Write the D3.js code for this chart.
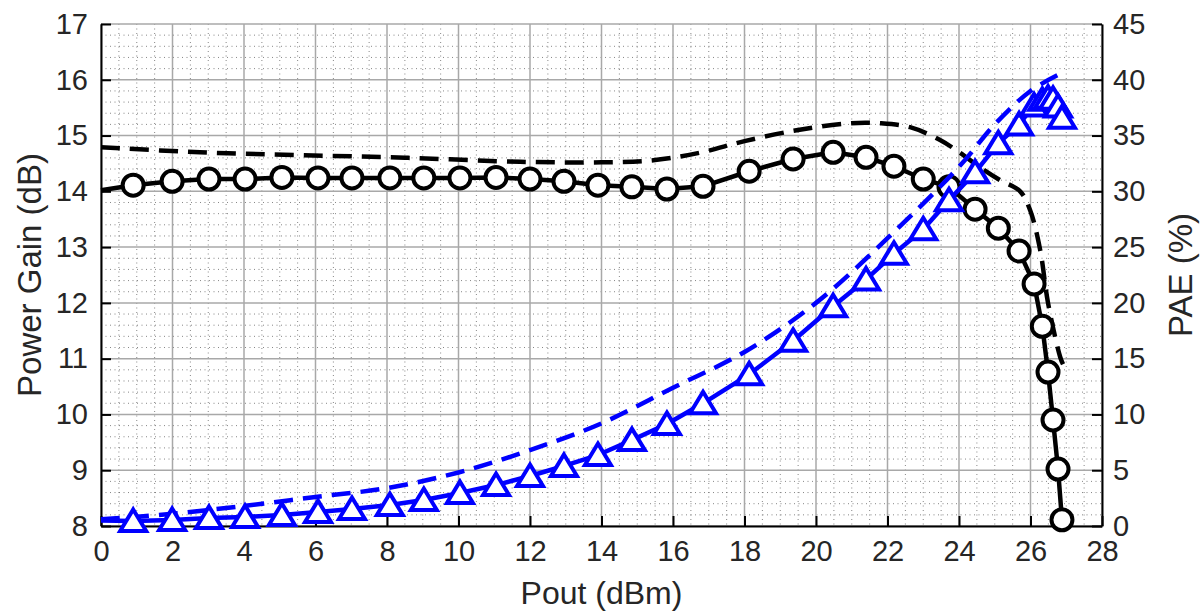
<!DOCTYPE html>
<html lang="en">

<head>
    <meta charset="utf-8">
    <title>Power gain and PAE vs Pout</title>
    <script src="https://d3js.org/d3.v7.min.js"></script>
    <style type="text/css">
        body { margin: 0; background: #fff; }
        text { font-family: "Liberation Sans", Arial, sans-serif; fill: #262626; }
    </style>
</head>

<body>
    <script type="text/javascript">

        // measured points (first point at 0 dBm has no marker)
        var pout = [0, 0.9, 1.99, 3.02, 4.03, 5.06, 6.07, 7.02, 8.08, 9.03, 10.04, 11.05, 12.0,
            12.95, 13.9, 14.85, 15.83, 16.84, 18.13, 19.36, 20.48, 21.4, 22.18, 23.0, 23.72,
            24.45, 25.1, 25.68, 26.1, 26.33, 26.49, 26.63, 26.77, 26.88];
        var gainMeas = [14.02, 14.11, 14.18, 14.22, 14.22, 14.25, 14.24, 14.24, 14.24, 14.24,
            14.24, 14.25, 14.22, 14.18, 14.11, 14.08, 14.04, 14.09, 14.36, 14.58, 14.70, 14.61,
            14.45, 14.22, 14.08, 13.68, 13.34, 12.93, 12.34, 11.58, 10.76, 9.90, 9.02, 8.11];
        var paeMeas = [0.5, 0.45, 0.54, 0.72, 0.81, 0.99, 1.25, 1.52, 1.88, 2.33, 2.96, 3.67,
            4.48, 5.38, 6.36, 7.7, 9.14, 11.0, 13.6, 16.6, 19.7, 22.1, 24.4, 26.6, 29.2, 31.7,
            34.3, 36.0, 37.7, 38.2, 38.4, 38.3, 37.6, 36.6];

        // simulated curves (dashed)
        var gainSimX = [0, 2.77, 5.57, 8.59, 11.72, 14.0, 15.5, 16.8, 18.0, 19.5, 20.95, 21.79,
            22.63, 23.47, 24.03, 24.59, 25.15, 25.71, 25.99, 26.27, 26.49, 26.83, 26.91];
        var gainSim = [14.79, 14.70, 14.65, 14.6, 14.53, 14.52, 14.56, 14.7, 14.9, 15.1, 15.22, 15.22,
            15.15, 14.92, 14.69, 14.43, 14.2, 14.0, 13.66, 12.95, 12.0, 11.03, 10.9];
        var paeSimX = [0, 2, 4, 6, 8, 10, 12, 14, 16, 18, 20, 22, 24, 25, 26, 26.75];
        var paeSim = [0.6, 1.1, 1.8, 2.6, 3.4, 4.8, 6.8, 9.2, 12.4, 15.6, 20.0, 25.8, 32.2,
            36.0, 39.0, 40.4];

        var xTicks = d3.range(0, 29, 2),
            gainTicks = d3.range(8, 18, 1),
            paeTicks = d3.range(0, 46, 5);

        var w = 1200, h = 612,
            mLeft = 101, mRight = 1102, mTop = 24, mBottom = 526;

        var svg = d3.select("body").append("svg")
            .attr("width", w)
            .attr("height", h);

        var xScale = d3.scaleLinear().domain([0, 28]).range([mLeft, mRight]);
        var yGain = d3.scaleLinear().domain([8, 17]).range([mBottom, mTop]);
        var yPae = d3.scaleLinear().domain([0, 45]).range([mBottom, mTop]);

        // minor grid (dotted)
        var grid = svg.append("g");
        grid.selectAll("line.mx").data(d3.range(0, 28.01, 0.5).filter(function (d) { return d % 2 !== 0; }))
            .enter().append("line")
            .attr("x1", function (d) { return xScale(d); })
            .attr("x2", function (d) { return xScale(d); })
            .attr("y1", mTop).attr("y2", mBottom)
            .attr("stroke", "#555").attr("stroke-width", 1)
            .attr("stroke-dasharray", "1,3.5").attr("opacity", 0.7);
        grid.selectAll("line.my").data(d3.range(0, 45.01, 1).filter(function (d) { return d % 5 !== 0; }))
            .enter().append("line")
            .attr("y1", function (d) { return yPae(d); })
            .attr("y2", function (d) { return yPae(d); })
            .attr("x1", mLeft).attr("x2", mRight)
            .attr("stroke", "#555").attr("stroke-width", 1)
            .attr("stroke-dasharray", "1,3.5").attr("opacity", 0.7);

        // major grid
        grid.selectAll("line.gx").data(xTicks)
            .enter().append("line")
            .attr("x1", function (d) { return xScale(d); })
            .attr("x2", function (d) { return xScale(d); })
            .attr("y1", mTop).attr("y2", mBottom)
            .attr("stroke", "#a8a8a8").attr("stroke-width", 1.5);
        grid.selectAll("line.gy").data(gainTicks)
            .enter().append("line")
            .attr("y1", function (d) { return yGain(d); })
            .attr("y2", function (d) { return yGain(d); })
            .attr("x1", mLeft).attr("x2", mRight)
            .attr("stroke", "#a8a8a8").attr("stroke-width", 1.5);

        // axes
        var xAxis = d3.axisBottom(xScale).tickValues(xTicks).tickSizeInner(-10).tickSizeOuter(0).tickPadding(14);
        var yAxisL = d3.axisLeft(yGain).tickValues(gainTicks).tickSizeInner(-10).tickSizeOuter(0).tickPadding(13);
        var yAxisR = d3.axisRight(yPae).tickValues(paeTicks).tickSizeInner(-10).tickSizeOuter(0).tickPadding(11);

        function styleAxis(g) {
            g.select(".domain").attr("stroke", "#000").attr("stroke-width", 2);
            g.selectAll(".tick line").attr("stroke", "#000").attr("stroke-width", 2);
            g.selectAll(".tick text").attr("font-size", 29).attr("fill", "#262626")
                .style("font-family", "'Liberation Sans', Arial, sans-serif");
        }

        svg.append("g").attr("transform", "translate(0," + mBottom + ")").call(xAxis).call(styleAxis);
        svg.append("g").attr("transform", "translate(" + mLeft + ",0)").call(yAxisL).call(styleAxis);
        svg.append("g").attr("transform", "translate(" + mRight + ",0)").call(yAxisR).call(styleAxis);

        // axis labels
        svg.append("text").attr("x", (mLeft + mRight) / 2).attr("y", 604)
            .attr("text-anchor", "middle").attr("font-size", 32).text("Pout (dBm)");
        svg.append("text").attr("transform", "translate(41," + (mTop + mBottom) / 2 + ") rotate(-90)")
            .attr("text-anchor", "middle").attr("font-size", 33).text("Power Gain (dB)");
        svg.append("text").attr("transform", "translate(1192," + (mTop + mBottom) / 2 + ") rotate(-90)")
            .attr("text-anchor", "middle").attr("font-size", 33).text("PAE (%)");

        var plot = svg.append("g");

        // gain dashed
        var gainSimLine = d3.line()
            .x(function (d, i) { return xScale(gainSimX[i]); })
            .y(function (d) { return yGain(d); })
            .curve(d3.curveCatmullRom);
        plot.append("path").datum(gainSim)
            .attr("d", gainSimLine)
            .attr("fill", "none").attr("stroke", "#000").attr("stroke-width", 4.5)
            .attr("stroke-dasharray", "19,10");

        // gain measured
        var gainLine = d3.line()
            .x(function (d, i) { return xScale(pout[i]); })
            .y(function (d) { return yGain(d); });
        plot.append("path").datum(gainMeas)
            .attr("d", gainLine)
            .attr("fill", "none").attr("stroke", "#000").attr("stroke-width", 4.5)
            .attr("stroke-linejoin", "round");
        plot.selectAll("circle.g").data(gainMeas.slice(1))
            .enter().append("circle")
            .attr("cx", function (d, i) { return xScale(pout[i + 1]); })
            .attr("cy", function (d) { return yGain(d); })
            .attr("r", 10.5)
            .attr("fill", "#fff").attr("stroke", "#000").attr("stroke-width", 4);

        // PAE dashed
        var paeSimLine = d3.line()
            .x(function (d, i) { return xScale(paeSimX[i]); })
            .y(function (d) { return yPae(d); })
            .curve(d3.curveCatmullRom);
        plot.append("path").datum(paeSim)
            .attr("d", paeSimLine)
            .attr("fill", "none").attr("stroke", "#0000ff").attr("stroke-width", 4.5)
            .attr("stroke-dasharray", "19,10");

        // PAE measured
        var paeLine = d3.line()
            .x(function (d, i) { return xScale(pout[i]); })
            .y(function (d) { return yPae(d); });
        plot.append("path").datum(paeMeas)
            .attr("d", paeLine)
            .attr("fill", "none").attr("stroke", "#0000ff").attr("stroke-width", 4.5)
            .attr("stroke-linejoin", "round");
        plot.selectAll("path.tri").data(paeMeas.slice(1))
            .enter().append("path")
            .attr("d", "M0,-11.5L13,10L-13,10Z")
            .attr("transform", function (d, i) {
                return "translate(" + xScale(pout[i + 1]) + "," + yPae(d) + ")";
            })
            .attr("fill", "#fff").attr("stroke", "#0000ff").attr("stroke-width", 4)
            .attr("stroke-linejoin", "miter");

    </script>
</body>

</html>
